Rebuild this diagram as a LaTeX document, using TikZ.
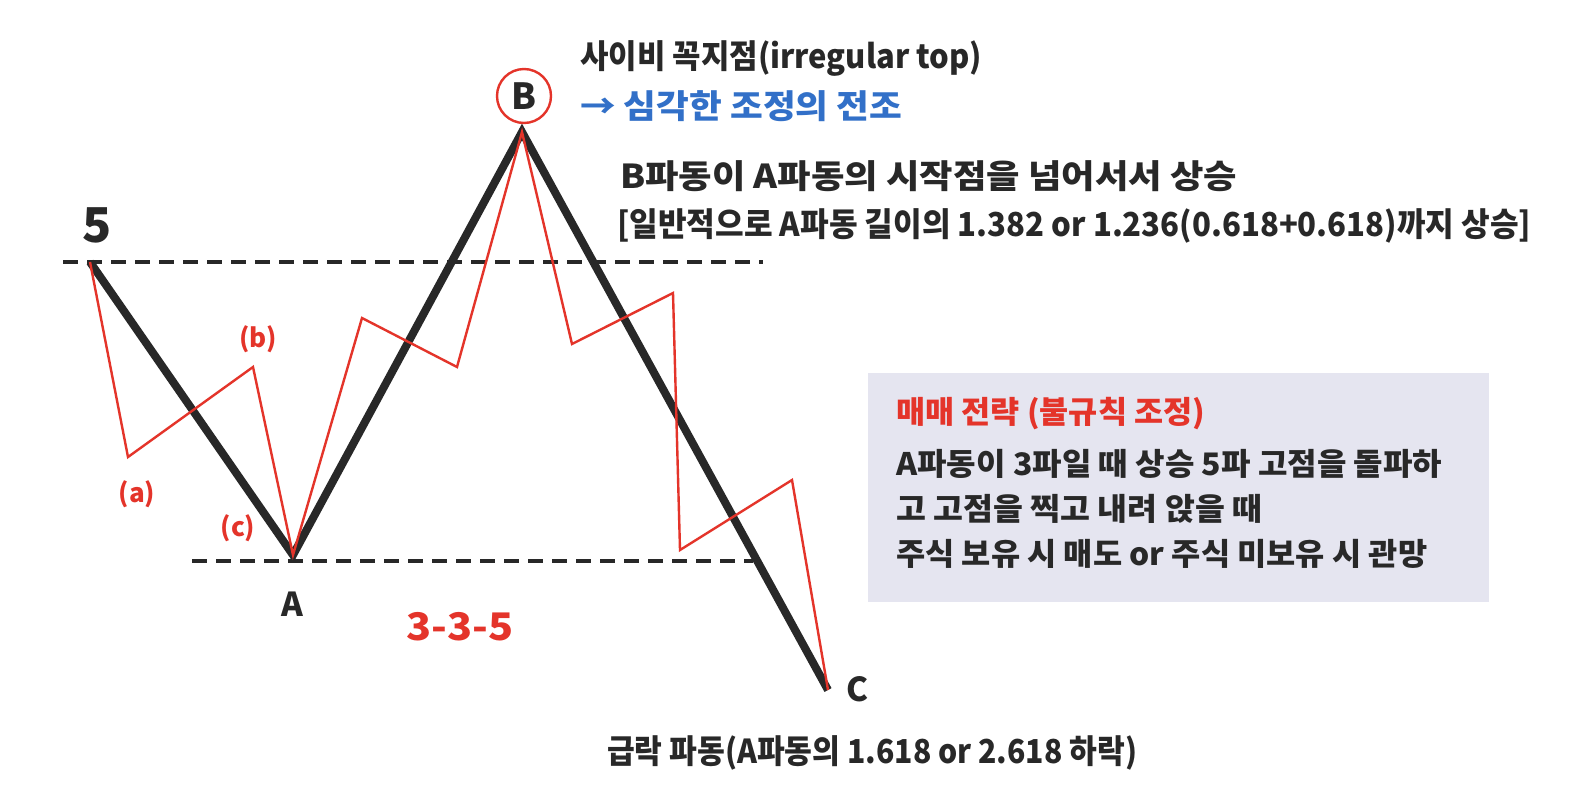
\documentclass[tikz,border=0pt]{standalone}
\usepackage{fontspec}
\usepackage{graphicx}
\setmainfont{Noto Sans CJK KR}
\newfontfamily\kr{Noto Sans CJK KR}
\newcommand{\fitw}[2]{\resizebox{#1}{\height}{#2}}
\definecolor{wred}{RGB}{228,52,42}
\definecolor{wdark}{RGB}{40,40,40}
\definecolor{wblue}{RGB}{50,112,200}
\definecolor{wbox}{RGB}{229,229,240}
\tikzset{
  bigwave/.style={draw=wdark, line width=8pt, line join=miter},
  subwave/.style={draw=wred, line width=2.4pt, line join=miter},
  level/.style={draw=wdark, line width=3.2pt, dash pattern=on 15pt off 9pt},
  txt/.style={anchor=west, inner sep=0pt, text=wdark, font=\kr\bfseries\fontsize{33}{38}\selectfont},
  boxtxt/.style={txt, font=\kr\bfseries\fontsize{31}{36}\selectfont},
  lbl/.style={inner sep=0pt, text=wdark, font=\kr\bfseries\fontsize{33}{38}\selectfont},
  rlbl/.style={inner sep=0pt, text=wred, font=\kr\bfseries\fontsize{26}{30}\selectfont},
}
\begin{document}
\begin{tikzpicture}[x=1pt,y=-1pt]
\useasboundingbox[fill=white] (0,0) rectangle (1574,809);
% points
\coordinate (P5) at (90,262);
\coordinate (pa) at (128,457);
\coordinate (pb) at (253,367);
\coordinate (PA) at (293,555);
\coordinate (r1) at (362,318);
\coordinate (r2) at (457,367);
\coordinate (PB) at (522,132);
\coordinate (r3) at (572,344);
\coordinate (r4) at (673,293);
\coordinate (r5) at (680,550);
\coordinate (r6) at (792,480);
\coordinate (PC) at (828,690);
\coordinate (t1) at (63,262);
\coordinate (t2) at (763,262);
\coordinate (b1) at (192,561);
\coordinate (b2) at (753,561);
% box
\node[fill=wbox, minimum width=621pt, minimum height=229pt, anchor=north west, inner sep=0pt] (box) at (868,373) {};
% levels
\draw[level] (t1) -- (t2);
\draw[level] (b1) -- (b2);
% waves
\draw[bigwave] (P5) -- (PA) -- (PB) -- (PC);
\draw[subwave] (P5) -- (pa) -- (pb) -- (PA) -- (r1) -- (r2) -- (PB) -- (r3) -- (r4) -- (r5) -- (r6) -- (PC);
% B circle
\node[circle, draw=wred, line width=2.4pt, minimum size=54pt, inner sep=0pt, text=wdark, font=\kr\bfseries\fontsize{36}{40}\selectfont] (cB) at (524,96) {B};
% labels
\node[lbl, font=\kr\bfseries\fontsize{48}{52}\selectfont] (l5) at (97,225) {5};
\node[lbl] (lA) at (292,604) {A};
\node[lbl] (lC) at (857,689) {C};
\node[rlbl] (la) at (137,494) {(a)};
\node[rlbl] (lb) at (258,339) {(b)};
\node[rlbl] (lc) at (238,528) {(c)};
\node[inner sep=0pt, text=wred, font=\kr\bfseries\fontsize{38}{42}\selectfont] (l335) at (460,627) {\fitw{107pt}{3-3-5}};
% top texts
\node[txt] (t1n) at (580,58) {\fitw{402pt}{사이비 꼭지점(irregular top)}};
\node[txt, text=wblue] (t2n) at (580,106) {\fitw{322pt}{→ 심각한 조정의 전조}};
\node[txt] (t3n) at (620,176) {\fitw{617pt}{B파동이 A파동의 시작점을 넘어서서 상승}};
\node[txt] (t4n) at (617,226) {\fitw{914pt}{[일반적으로 A파동 길이의 1.382 or 1.236(0.618+0.618)까지 상승]}};
% box texts
\node[boxtxt, text=wred] (s0) at (896,414) {\fitw{309pt}{매매 전략 (불규칙 조정)}};
\node[boxtxt] (s1) at (896,464) {\fitw{546pt}{A파동이 3파일 때 상승 5파 고점을 돌파하}};
\node[boxtxt] (s2) at (896,509) {\fitw{366pt}{고 고점을 찍고 내려 앉을 때}};
\node[boxtxt] (s3) at (896,554) {\fitw{531pt}{주식 보유 시 매도 or 주식 미보유 시 관망}};
% bottom text
\node[txt] (bt) at (607,753) {\fitw{530pt}{급락 파동(A파동의 1.618 or 2.618 하락)}};
\end{tikzpicture}
\end{document}
